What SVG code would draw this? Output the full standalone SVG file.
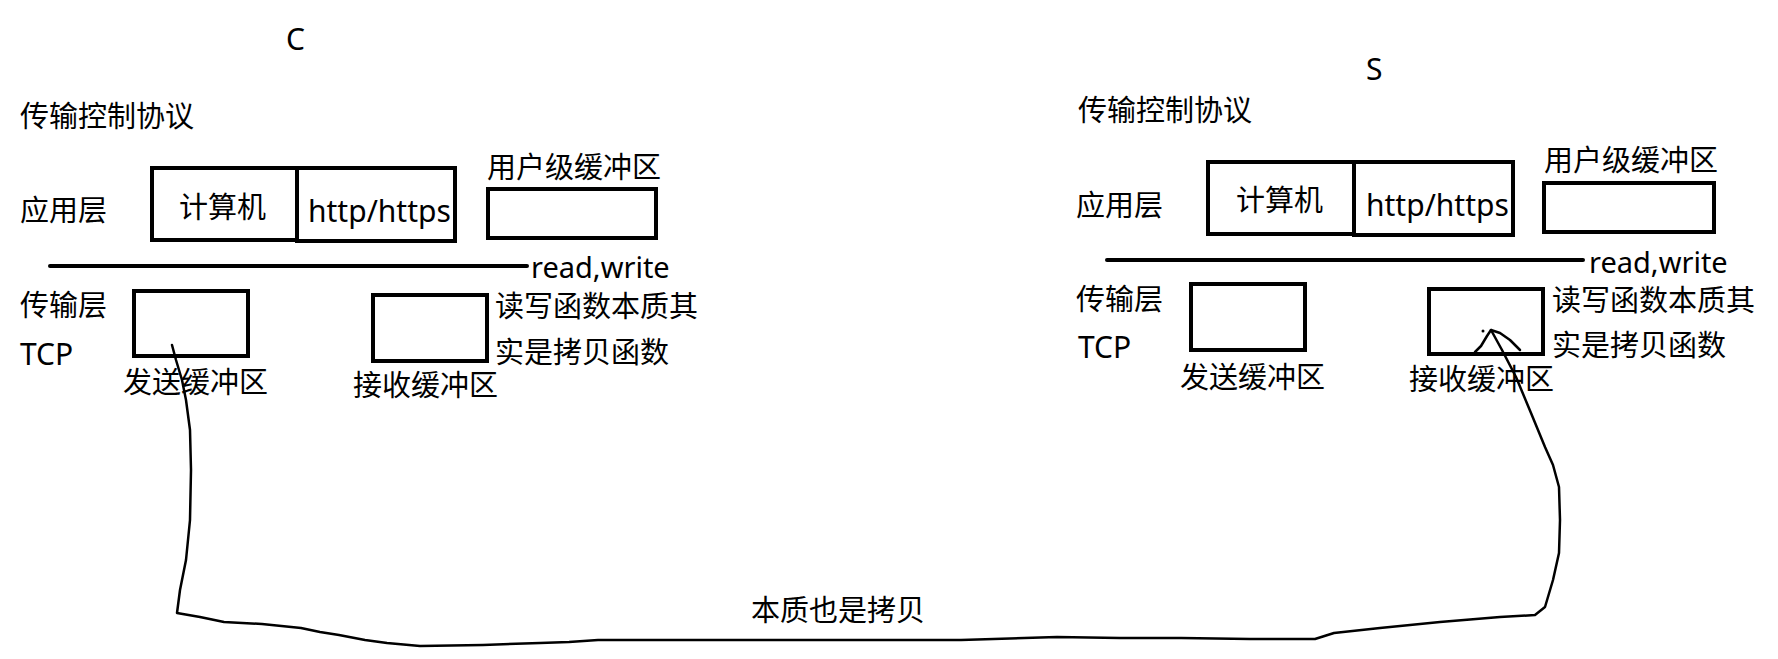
<svg xmlns="http://www.w3.org/2000/svg" width="1778" height="659" viewBox="0 0 1778 659">
<style>
text{font-family:"Noto Sans","Noto Sans CJK SC",sans-serif;font-size:29px;fill:#000}
.lat{font-size:30px}
.rw{font-size:29px}
.box{fill:#fff;stroke:#000;stroke-width:4}
.rule{stroke:#000;stroke-width:4;stroke-linecap:round}
.conn{fill:none;stroke:#000;stroke-width:2.5;stroke-linejoin:round;stroke-linecap:round}
</style>
<rect width="1778" height="659" fill="#fff"/>
<g id="client">
  <text x="286" y="50" class="lat">C</text>
  <text x="20" y="127">传输控制协议</text>
  <text x="20" y="221">应用层</text>
  <g id="c-computer"><rect class="box" x="152" y="168" width="145" height="72"/><text x="179" y="218">计算机</text></g>
  <g id="c-http"><rect class="box" x="297" y="168" width="158" height="73"/><text x="308" y="222" class="lat">http/https</text></g>
  <g id="c-userbuf"><text x="487" y="178">用户级缓冲区</text><rect class="box" x="488" y="189" width="168" height="49"/></g>
  <line class="rule" x1="50" y1="266" x2="527" y2="266"/>
  <text x="531" y="278" class="rw">read,write</text>
  <text x="20" y="316">传输层</text>
  <text x="20" y="365" class="lat">TCP</text>
  <g id="c-sendbuf"><rect class="box" x="134" y="291" width="114" height="65"/><text x="123" y="393">发送缓冲区</text></g>
  <g id="c-recvbuf"><rect class="box" x="373" y="295" width="114" height="66"/><text x="353" y="396">接收缓冲区</text></g>
  <text x="495" y="317">读写函数本质其</text>
  <text x="495" y="363">实是拷贝函数</text>
</g>
<g id="server">
  <text x="1366" y="80" class="lat">S</text>
  <text x="1078" y="121">传输控制协议</text>
  <text x="1076" y="216">应用层</text>
  <g id="s-computer"><rect class="box" x="1208" y="162" width="146" height="72"/><text x="1236" y="211">计算机</text></g>
  <g id="s-http"><rect class="box" x="1354" y="162" width="159" height="73"/><text x="1366" y="216" class="lat">http/https</text></g>
  <g id="s-userbuf"><text x="1544" y="171">用户级缓冲区</text><rect class="box" x="1544" y="183" width="170" height="49"/></g>
  <line class="rule" x1="1107" y1="260" x2="1583" y2="260"/>
  <text x="1589" y="273" class="rw">read,write</text>
  <text x="1552" y="311">读写函数本质其</text>
  <text x="1076" y="310">传输层</text>
  <text x="1078" y="358" class="lat">TCP</text>
  <g id="s-sendbuf"><rect class="box" x="1191" y="284" width="114" height="66"/><text x="1180" y="388">发送缓冲区</text></g>
  <g id="s-recvbuf"><rect class="box" x="1429" y="289" width="114" height="65"/><text x="1409" y="390">接收缓冲区</text></g>
  <text x="1552" y="356">实是拷贝函数</text>
</g>
<g id="connectors">
  <path class="conn" d="M172,345 L176,360 L182,380 L186,400 L190,430 L191,470 L190,520 L186,560 L180,590 L177,613 L200,617 L224,622 L262,624 L301,628 L320,632 L339,635 L365,640 L387,643 L420,646 L483,645 L540,643 L569,642 L598,640 L700,640 L770,640 L900,640 L961,640 L1057,637 L1120,638 L1181,638 L1250,639 L1315,639 L1334,633 L1380,628 L1440,622 L1500,617 L1535,615 L1545,607 L1553,580 L1559,553 L1560,520 L1559,487 L1553,465 L1545,447 L1531,413 L1516,377 L1502,350 L1491,330"/>
  <path class="conn" d="M1475,352 L1481,346 L1487,336 L1491,330 L1500,333 L1510,340 L1520,350"/>
  <circle cx="1483" cy="331" r="1.5" fill="#000"/>
  <text x="751" y="621">本质也是拷贝</text>
</g>
</svg>
